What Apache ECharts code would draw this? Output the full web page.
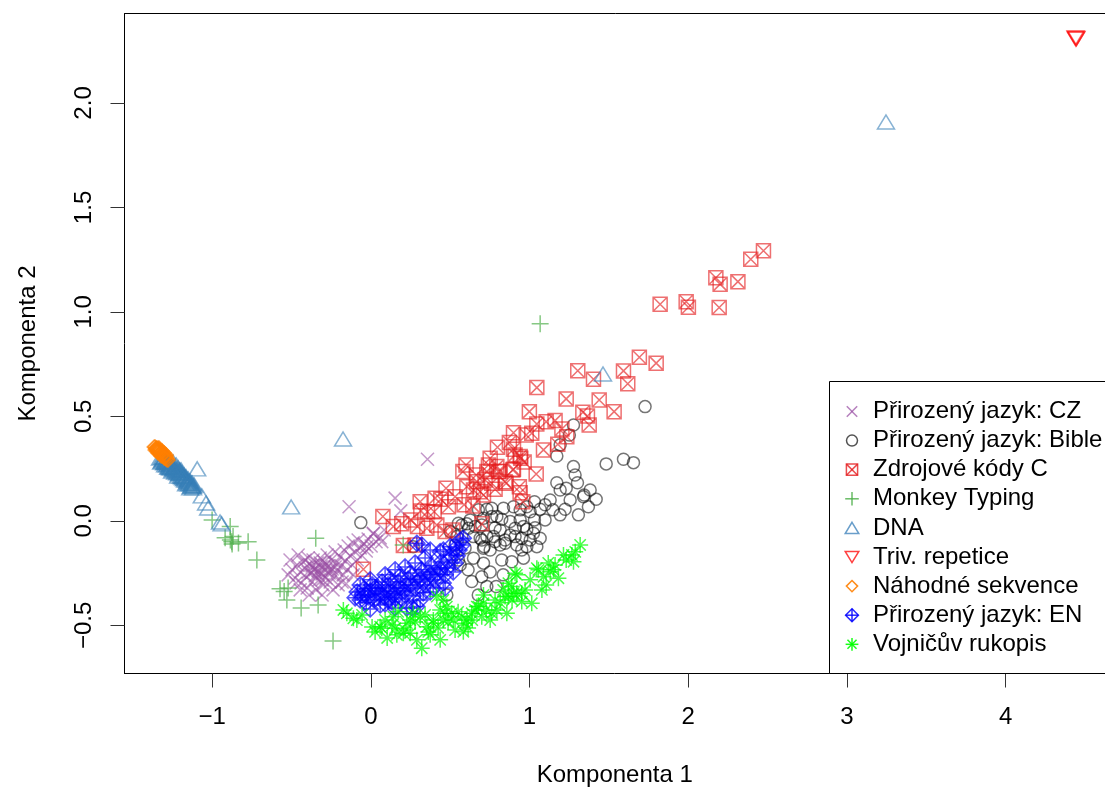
<!DOCTYPE html>
<html>
<head>
<meta charset="utf-8">
<script src="https://cdn.jsdelivr.net/npm/echarts@6/dist/echarts.min.js"></script>
<style>
  html, body { margin: 0; padding: 0; background: #ffffff; }
  #chart { width: 1105px; height: 787px; }
</style>
</head>
<body>
<div id="chart"></div>
<script>
// ---- Data: PCA scores (Komponenta 1, Komponenta 2) per text group ----
const groupNames = [
  'Přirozený jazyk: CZ',
  'Přirozený jazyk: Bible',
  'Zdrojové kódy C',
  'Monkey Typing',
  'DNA',
  'Triv. repetice',
  'Náhodné sekvence',
  'Přirozený jazyk: EN',
  'Vojničův rukopis'
];

const xTickValues = [-1, 0, 1, 2, 3, 4];
const yTickValues = [-0.5, 0, 0.5, 1, 1.5, 2];

const czPoints = [
  [-0.509,-0.187],[-0.496,-0.234],[-0.477,-0.273],[-0.464,-0.211],[-0.458,-0.163],[-0.445,-0.244],
  [-0.439,-0.297],[-0.427,-0.196],[-0.414,-0.225],[-0.408,-0.268],[-0.401,-0.321],[-0.395,-0.177],
  [-0.382,-0.211],[-0.376,-0.249],[-0.370,-0.292],[-0.364,-0.187],[-0.357,-0.230],[-0.351,-0.263],
  [-0.345,-0.330],[-0.338,-0.201],[-0.332,-0.239],[-0.326,-0.282],[-0.319,-0.177],[-0.313,-0.220],
  [-0.307,-0.254],[-0.301,-0.306],[-0.294,-0.196],[-0.288,-0.234],[-0.282,-0.273],[-0.275,-0.163],
  [-0.269,-0.215],[-0.263,-0.249],[-0.256,-0.292],[-0.250,-0.187],[-0.244,-0.230],[-0.231,-0.263],
  [-0.225,-0.148],[-0.219,-0.201],[-0.212,-0.239],[-0.206,-0.306],[-0.193,-0.172],[-0.187,-0.215],
  [-0.174,-0.258],[-0.168,-0.139],[-0.161,-0.191],[-0.149,-0.234],[-0.143,-0.120],[-0.130,-0.167],
  [-0.117,-0.211],[-0.111,-0.105],[-0.099,-0.148],[-0.086,-0.187],[-0.080,-0.091],[-0.067,-0.129],
  [-0.055,-0.167],[-0.042,-0.110],[-0.029,-0.144],[-0.017,-0.086],[0.002,-0.120],[0.015,-0.062],
  [0.033,-0.100],[0.059,-0.081],[0.084,-0.043],[-0.181,-0.292],[-0.238,-0.330],[-0.445,-0.330],
  [-0.521,-0.258],[-0.471,-0.297],[-0.389,-0.354],[-0.307,-0.354],[-0.155,-0.301],[-0.111,-0.258],
  [-0.414,-0.187],[-0.370,-0.215],[-0.332,-0.258],[-0.288,-0.211],[-0.256,-0.234],[-0.307,-0.282],
  [-0.351,-0.234],[-0.395,-0.244],[-0.225,-0.220],[-0.319,-0.201],
  [-0.137,0.068],[0.153,0.109],[0.189,0.048],[0.357,0.295],[0.069,-0.099],[-0.025,-0.123],[0.016,-0.059]
];

const biblePoints = [
  [1.172,0.311],[1.277,0.260],[1.483,0.273],[1.592,0.295],[1.655,0.279],[1.172,0.183],[1.193,0.148],
  [1.231,0.156],[1.302,0.183],[1.344,0.124],[1.420,0.104],[1.371,0.068],[1.308,0.029],[1.224,0.056],
  [1.147,0.053],[1.067,0.056],[1.031,0.092],[1.031,0.005],[0.941,0.053],[0.836,0.061],[0.794,0.021],
  [0.731,0.056],[0.710,0.013],[0.815,-0.043],[0.878,-0.003],[0.909,-0.035],[0.983,-0.040],[0.951,-0.083],
  [1.004,-0.091],[1.067,-0.083],[1.046,-0.123],[0.983,-0.123],[0.920,-0.115],[0.846,-0.091],[0.773,-0.075],
  [0.699,-0.091],[0.710,-0.131],[0.647,-0.178],[0.710,-0.202],[0.825,-0.187],[0.888,-0.195],[0.962,-0.178],
  [0.563,-0.211],[0.636,-0.290],[0.699,-0.267],[0.731,-0.314],[0.790,-0.314],[0.479,-0.354],[0.573,-0.019],
  [0.615,-0.035],[0.657,-0.027],[0.689,-0.083],[0.647,-0.075],[0.825,0.008],[1.004,0.044],[1.277,0.459],
  [1.251,0.411],[1.193,0.364],[1.728,0.547],[1.340,0.116],[0.762,0.061],[0.678,0.053],[0.762,0.021],
  [0.699,-0.019],[0.962,-0.027],[1.025,-0.059],[0.909,-0.075],[0.846,-0.107],[0.783,-0.099],[0.714,-0.123],
  [0.731,-0.075],[0.605,-0.014],[0.552,-0.011],[0.500,-0.051],[0.542,-0.075],[0.552,-0.187],[-0.063,-0.008],
  [0.267,-0.123],[0.951,-0.139],[0.899,0.068],[0.983,0.068],
  [0.626,0.005],[0.531,-0.115],[0.594,-0.129],[0.752,-0.139],[0.815,-0.115],[0.878,-0.067],[1.035,-0.033],
  [1.098,0.005],[1.130,0.100],[1.256,0.100],[1.382,0.148],[1.287,0.220],[0.613,-0.234],[0.752,-0.244],
  [0.834,-0.258],[0.677,-0.354],[0.783,-0.033],[0.941,0.005],[1.098,0.077],[1.193,0.029]
];

const cCodePoints = [
  [2.474,1.293],[2.394,1.252],[2.174,1.164],[2.201,1.133],[2.313,1.145],[1.823,1.037],[1.987,1.049],
  [2.001,1.022],[2.195,1.021],[1.692,0.783],[1.798,0.755],[1.592,0.718],[1.619,0.656],[1.304,0.719],
  [1.403,0.678],[1.046,0.638],[1.231,0.584],[1.439,0.579],[1.533,0.523],[0.999,0.523],[1.336,0.520],
  [1.365,0.502],[1.376,0.459],[1.161,0.480],[1.105,0.475],[1.046,0.464],[1.204,0.440],[1.235,0.403],
  [0.899,0.422],[0.979,0.411],[1.014,0.420],[0.873,0.375],[1.178,0.367],[1.088,0.340],[0.798,0.353],
  [0.909,0.316],[0.945,0.300],[0.895,0.244],[1.042,0.225],[0.752,0.300],[0.804,0.236],[0.731,0.236],
  [0.853,0.180],[0.936,0.164],[0.899,0.343],[0.941,0.308],[0.899,0.247],[0.741,0.268],[0.794,0.260],
  [0.815,0.236],[0.600,0.268],[0.664,0.220],[0.668,0.188],[0.720,0.196],[0.762,0.180],[0.846,0.188],
  [0.580,0.236],[0.605,0.164],[0.647,0.148],[0.689,0.140],[0.710,0.124],[0.783,0.152],[0.941,0.135],
  [0.958,0.092],[0.474,0.156],[0.531,0.116],[0.405,0.109],[0.441,0.104],[0.489,0.068],[0.399,0.044],
  [0.311,0.092],[0.315,0.048],[0.357,0.044],[0.588,0.077],[0.643,0.072],[0.699,-0.014],[0.252,0.005],
  [0.294,-0.027],[0.353,-0.035],[0.416,-0.019],[0.468,-0.051],[0.517,-0.043],[0.142,-0.027],[0.195,-0.014],
  [0.076,0.021],[0.205,-0.118],[-0.047,-0.231],[0.279,-0.115],[0.966,0.282]
];

const monkeyPoints = [
  [-1.000,0.005],[-0.886,-0.027],[-0.918,-0.081],[-0.876,-0.099],[-0.868,-0.075],[-0.834,-0.105],
  [-0.773,-0.099],[-0.718,-0.187],[-0.347,-0.083],[-0.572,-0.325],[-0.546,-0.338],[-0.521,-0.321],
  [-0.529,-0.378],[-0.439,-0.416],[-0.332,-0.402],[-0.238,-0.574],[0.204,-0.115],[1.067,0.943],
  [-0.885,-0.091],[-0.874,-0.110]
];

const dnaPoints = [
  [3.246,1.909],[1.463,0.703],[-0.175,0.392],[-0.502,0.067],[-1.094,0.249],[-1.065,0.120],
  [-1.038,0.086],[-1.025,0.062],[-0.950,-0.005],[-0.940,-0.014],
  [-1.328,0.301],[-1.315,0.287],[-1.309,0.306],[-1.296,0.282],[-1.290,0.297],[-1.284,0.268],
  [-1.277,0.287],[-1.265,0.273],[-1.265,0.254],[-1.252,0.263],[-1.246,0.282],[-1.239,0.244],
  [-1.233,0.258],[-1.227,0.268],[-1.220,0.239],[-1.214,0.254],[-1.208,0.225],[-1.202,0.244],
  [-1.195,0.215],[-1.189,0.230],[-1.183,0.206],[-1.176,0.220],[-1.170,0.196],[-1.164,0.211],
  [-1.157,0.187],[-1.151,0.201],[-1.145,0.177],[-1.138,0.191],[-1.132,0.167],[-1.126,0.182],
  [-1.120,0.158],[-1.113,0.172],[-1.214,0.215],[-1.252,0.239],[-1.277,0.258],[-1.302,0.278],
  [-1.164,0.177],[-1.138,0.158],[-1.195,0.244],[-1.233,0.234],
  [-1.321,0.282],[-1.309,0.292],[-1.296,0.268],[-1.284,0.282],[-1.271,0.258],[-1.258,0.273],
  [-1.246,0.249],[-1.233,0.249],[-1.220,0.230],[-1.208,0.244],[-1.195,0.225],[-1.183,0.215],
  [-1.170,0.206],[-1.157,0.196],[-1.145,0.187],[-1.132,0.177],[-1.120,0.167],[-1.315,0.306],
  [-1.302,0.292],[-1.290,0.282],[-1.277,0.273],[-1.265,0.263],[-1.239,0.258],[-1.227,0.244],
  [-1.202,0.230],[-1.189,0.211],[-1.176,0.201],[-1.151,0.182],[-1.126,0.167],[-1.271,0.278],
  [-1.258,0.254],[-1.208,0.234]
];

const trivPoints = [
  [4.440,2.311],[4.446,2.309],[4.443,2.305]
];

const randomSeqPoints = [
  [-1.359,0.354],[-1.353,0.344],[-1.347,0.349],[-1.340,0.335],[-1.334,0.340],[-1.328,0.325],
  [-1.321,0.330],[-1.315,0.316],[-1.309,0.321],[-1.302,0.306],[-1.296,0.311],[-1.290,0.297],
  [-1.284,0.301],[-1.277,0.292],[-1.347,0.335],[-1.315,0.330],[-1.334,0.349],[-1.290,0.311],
  [-1.365,0.354],[-1.353,0.349],[-1.347,0.340],[-1.340,0.349],[-1.334,0.330],[-1.328,0.340],
  [-1.321,0.321],[-1.315,0.335],[-1.309,0.311],[-1.302,0.325],[-1.296,0.301],[-1.290,0.316],
  [-1.284,0.292],[-1.359,0.340],[-1.340,0.325],[-1.321,0.311],[-1.302,0.301]
];

const enPoints = [
  [-0.099,-0.368],[-0.086,-0.340],[-0.067,-0.378],[-0.055,-0.354],[-0.042,-0.325],[-0.029,-0.392],
  [-0.017,-0.364],[-0.004,-0.335],[0.008,-0.306],[0.021,-0.378],[0.033,-0.349],[0.046,-0.321],
  [0.059,-0.402],[0.071,-0.292],[0.084,-0.364],[0.097,-0.335],[0.109,-0.306],[0.122,-0.278],
  [0.134,-0.388],[0.147,-0.349],[0.160,-0.321],[0.172,-0.292],[0.185,-0.263],[0.197,-0.373],
  [0.210,-0.335],[0.222,-0.306],[0.235,-0.278],[0.248,-0.249],[0.260,-0.416],[0.267,-0.359],
  [0.279,-0.321],[0.292,-0.292],[0.304,-0.263],[0.317,-0.234],[0.330,-0.344],[0.342,-0.306],
  [0.355,-0.273],[0.367,-0.244],[0.380,-0.215],[0.393,-0.321],[0.405,-0.282],[0.418,-0.254],
  [0.430,-0.225],[0.443,-0.196],[0.456,-0.297],[0.468,-0.258],[0.481,-0.225],[0.493,-0.187],
  [0.506,-0.163],[0.519,-0.244],[0.531,-0.201],[0.544,-0.167],[0.556,-0.139],[0.575,-0.115],
  [0.537,-0.129],[0.563,-0.091],[0.290,-0.107],[0.321,-0.115],[0.374,-0.139],[0.437,-0.147],
  [0.457,-0.139],[0.500,-0.123],[0.583,-0.083],[0.227,-0.416],[0.290,-0.410],[0.153,-0.416],
  [0.090,-0.397],[-0.004,-0.421],[0.059,-0.354],[0.122,-0.340],[0.185,-0.321],[0.248,-0.306],
  [0.311,-0.282],[0.374,-0.258],[0.437,-0.234],[0.153,-0.368],[0.216,-0.354],[0.109,-0.378],
  [0.027,-0.321],[-0.036,-0.354],[0.311,-0.378],[0.374,-0.340],[0.468,-0.321],
  [0.090,-0.258],[0.153,-0.234],[0.216,-0.220],[0.279,-0.201],[0.342,-0.177],[-0.004,-0.282],[-0.067,-0.306]
];

const voynichPoints = [
  [1.319,-0.115],[1.267,-0.163],[1.277,-0.195],[1.214,-0.163],[1.182,-0.274],[1.130,-0.243],
  [1.088,-0.267],[1.046,-0.226],[1.078,-0.330],[1.014,-0.394],[0.951,-0.386],[0.920,-0.258],
  [0.888,-0.314],[0.867,-0.362],[0.857,-0.442],[0.920,-0.346],[0.794,-0.426],[0.710,-0.394],
  [0.678,-0.410],[0.636,-0.442],[0.573,-0.458],[0.594,-0.489],[0.583,-0.530],[0.520,-0.474],
  [0.479,-0.410],[0.457,-0.474],[0.699,-0.458],[0.752,-0.474],[1.151,-0.234],[1.056,-0.234],
  [0.909,-0.250],[0.867,-0.298],[0.899,-0.346],[0.951,-0.346],[0.846,-0.362],[0.762,-0.442],
  [0.657,-0.426],[0.605,-0.474],[0.510,-0.442],[0.437,-0.426],[0.394,-0.474],[0.353,-0.506],
  [0.311,-0.458],[0.268,-0.442],[0.227,-0.489],[0.205,-0.537],[0.153,-0.513],[0.142,-0.458],
  [0.069,-0.513],[0.416,-0.362],[0.457,-0.378],[-0.151,-0.442],[-0.110,-0.466],[-0.173,-0.426],
  [-0.088,-0.474],[0.059,-0.506],[0.164,-0.545],[0.248,-0.537],[0.321,-0.609],[0.290,-0.569],
  [0.468,-0.442],[0.394,-0.489],[0.668,-0.410],[0.710,-0.354],[0.008,-0.507],[0.103,-0.560],
  [0.374,-0.545],[0.531,-0.522],[0.815,-0.392],
  [0.090,-0.474],[0.172,-0.435],[0.216,-0.522],[0.279,-0.483],[0.342,-0.450],[0.362,-0.531],
  [0.424,-0.512],[0.487,-0.483],[0.550,-0.435],[0.613,-0.512],[0.639,-0.474],[0.727,-0.426],
  [0.783,-0.378],[0.834,-0.330],[0.890,-0.378],[0.972,-0.330],[1.004,-0.282],[1.105,-0.306],
  [1.161,-0.211],[1.231,-0.187],[1.288,-0.148],[1.118,-0.201],[-0.055,-0.450],[0.027,-0.531],
  [0.134,-0.498],[0.248,-0.474],[0.437,-0.569]
];

const groupPoints = [
  czPoints, biblePoints, cCodePoints, monkeyPoints, dnaPoints,
  trivPoints, randomSeqPoints, enPoints, voynichPoints
];

// ---- Marker glyphs: outline strokes in a 10-unit box ----
// open: list of polylines, closed: list of polygons
const GLYPH_PARTS = {
  cross:       { open: [[[0,0],[10,10]], [[10,0],[0,10]]], closed: [] },
  boxCross:    { open: [[[0,0],[10,10]], [[10,0],[0,10]]], closed: [[[0,0],[10,0],[10,10],[0,10]]] },
  plus:        { open: [[[5,0],[5,10]], [[0,5],[10,5]]], closed: [] },
  triUp:       { open: [], closed: [[[5,0],[10,8.66],[0,8.66]]] },
  triDown:     { open: [], closed: [[[0,0],[10,0],[5,8.66]]] },
  diamond:     { open: [], closed: [[[5,0],[10,5],[5,10],[0,5]]] },
  diamondPlus: { open: [[[5,0],[5,10]], [[0,5],[10,5]]], closed: [[[5,0],[10,5],[5,10],[0,5]]] },
  asterisk:    { open: [[[5,0],[5,10]], [[0,5],[10,5]], [[1.46,1.46],[8.54,8.54]], [[8.54,1.46],[1.46,8.54]]], closed: [] }
};

function glyphPath(parts) {
  const seg = (pts, close) => 'M' + pts.map(p => p[0] + ',' + p[1]).join('L') + (close ? 'Z' : '');
  return parts.closed.map(p => seg(p, true)).concat(parts.open.map(p => seg(p, false))).join('');
}

function glyphBox(parts) {
  const all = parts.open.concat(parts.closed).flat();
  const xs = all.map(p => p[0]), ys = all.map(p => p[1]);
  return { x0: Math.min(...xs), y0: Math.min(...ys), w: Math.max(...xs) - Math.min(...xs), h: Math.max(...ys) - Math.min(...ys) };
}

const markerStyles = [
  { glyph: 'cross',       size: [13, 13], color: 'rgba(152,78,163,0.72)' },
  { glyph: 'circle',      size: [12, 12], color: 'rgba(0,0,0,0.68)' },
  { glyph: 'boxCross',    size: [14, 14], color: 'rgba(228,26,28,0.78)' },
  { glyph: 'plus',        size: [17, 17], color: 'rgba(77,175,74,0.85)' },
  { glyph: 'triUp',       size: [17, 14], color: 'rgba(55,126,184,0.75)' },
  { glyph: 'triDown',     size: [17, 14], color: 'rgba(255,0,0,0.75)' },
  { glyph: 'diamond',     size: [14, 14], color: 'rgba(255,127,0,0.9)' },
  { glyph: 'diamondPlus', size: [16, 16], color: 'rgba(0,0,255,0.85)' },
  { glyph: 'asterisk',    size: [16, 16], color: 'rgba(0,255,0,0.9)' }
];

const FONT = '"Liberation Sans", Arial, sans-serif';
const FONT_SIZE = 24;
const LINE_W = 1.5;

const minusFmt = (s) => s.replace('-', '\u2212');

const series = groupNames.map((name, i) => {
  const st = markerStyles[i];
  return {
    type: 'scatter',
    name: name,
    data: groupPoints[i],
    symbol: st.glyph === 'circle' ? 'circle' : 'path://' + glyphPath(GLYPH_PARTS[st.glyph]),
    symbolSize: st.size,
    itemStyle: { color: 'rgba(0,0,0,0)', borderColor: st.color, borderWidth: LINE_W },
    emphasis: { disabled: true },
    silent: true,
    z: 2 + i
  };
});

// ---- Plot frame geometry ----
const plotLeft = 124.5, plotTop = 13.5, plotBottom = 673.5;

// ---- Legend box (bottom-right corner of the plot) ----
const legendLeft = 829.5, legendTop = 381.5;
const legendRow0 = 411.5, legendStep = 29.1;
const legendSymX = 852, legendTextX = 873;

const overlayGraphics = [
  {
    type: 'line',
    shape: { x1: plotLeft, y1: plotTop, x2: 1110, y2: plotTop },
    style: { stroke: '#000000', lineWidth: 1 },
    z: 100, silent: true
  },
  {
    type: 'rect',
    shape: { x: legendLeft, y: legendTop, width: 320, height: plotBottom - legendTop },
    style: { fill: '#ffffff', stroke: '#000000', lineWidth: 1 },
    z: 100, silent: true
  }
];

groupNames.forEach((name, i) => {
  const st = markerStyles[i];
  const cy = legendRow0 + i * legendStep;
  if (st.glyph === 'circle') {
    overlayGraphics.push({
      type: 'circle',
      shape: { cx: legendSymX, cy: cy, r: st.size[0] / 2 - 0.5 },
      style: { fill: 'none', stroke: st.color, lineWidth: LINE_W },
      z: 101, silent: true
    });
  } else {
    const parts = GLYPH_PARTS[st.glyph];
    const box = glyphBox(parts);
    const w = st.size[0] * 0.8, h = st.size[1] * 0.8;
    const map = (p) => [legendSymX - w / 2 + (p[0] - box.x0) / box.w * w, cy - h / 2 + (p[1] - box.y0) / box.h * h];
    parts.closed.forEach(poly => overlayGraphics.push({
      type: 'polygon',
      shape: { points: poly.map(map) },
      style: { fill: 'none', stroke: st.color, lineWidth: LINE_W },
      z: 101, silent: true
    }));
    parts.open.forEach(line => overlayGraphics.push({
      type: 'polyline',
      shape: { points: line.map(map) },
      style: { fill: 'none', stroke: st.color, lineWidth: LINE_W },
      z: 101, silent: true
    }));
  }
  overlayGraphics.push({
    type: 'text',
    x: legendTextX, y: cy,
    style: { text: name, font: FONT_SIZE + 'px ' + FONT, fill: '#000000', verticalAlign: 'middle', align: 'left' },
    z: 101, silent: true
  });
});

const chart = echarts.init(document.getElementById('chart'), null, { renderer: 'canvas' });

chart.setOption({
  animation: false,
  backgroundColor: '#ffffff',
  grid: {
    left: plotLeft, top: plotTop, right: 0, bottom: 787 - plotBottom,
    show: false, containLabel: false, outerBoundsMode: 'none'
  },
  xAxis: {
    type: 'value',
    min: -1.552, max: 4.626,
    splitLine: { show: false },
    axisLine: { show: true, onZero: false, lineStyle: { color: '#000000', width: 1 } },
    axisTick: { show: true, length: 14, customValues: xTickValues, lineStyle: { color: '#333333', width: 1 } },
    axisLabel: {
      customValues: xTickValues,
      formatter: (v) => minusFmt(String(v)),
      margin: 32, color: '#000000', fontSize: FONT_SIZE, fontFamily: FONT
    },
    name: 'Komponenta 1',
    nameLocation: 'middle',
    nameGap: 90,
    nameTextStyle: { color: '#000000', fontSize: FONT_SIZE, fontFamily: FONT }
  },
  yAxis: {
    type: 'value',
    min: -0.730, max: 2.428,
    splitLine: { show: false },
    axisLine: { show: true, onZero: false, lineStyle: { color: '#000000', width: 1 } },
    axisTick: { show: true, length: 14, customValues: yTickValues, lineStyle: { color: '#333333', width: 1 } },
    axisLabel: {
      customValues: yTickValues,
      rotate: 90,
      formatter: (v) => minusFmt(v.toFixed(1)),
      margin: 28, color: '#000000', fontSize: FONT_SIZE, fontFamily: FONT
    },
    name: 'Komponenta 2',
    nameLocation: 'middle',
    nameGap: 84,
    nameTextStyle: { color: '#000000', fontSize: FONT_SIZE, fontFamily: FONT }
  },
  series: series,
  graphic: overlayGraphics
});
</script>
</body>
</html>
